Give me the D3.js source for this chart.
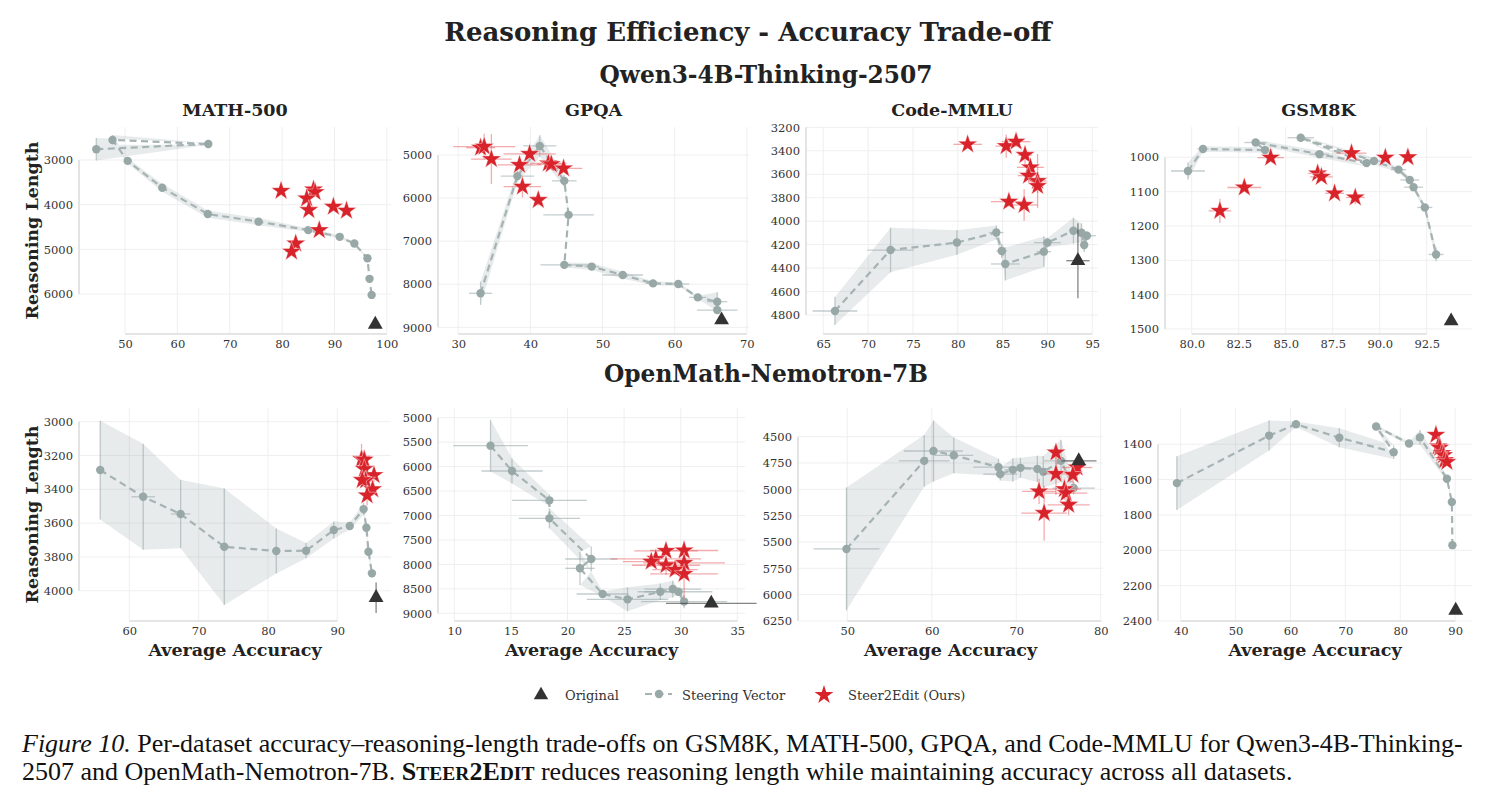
<!DOCTYPE html>
<html>
<head>
<meta charset="utf-8">
<script src="https://cdn.jsdelivr.net/npm/d3@7"></script>
<style>
  body { margin: 0; background: #fff; }
  svg text { font-family: "DejaVu Serif", serif; }
</style>
</head>
<body>
<svg id="chart" width="1496" height="807"></svg>
<script>
// each point: [accuracy, reasoning length, accuracy err, length err]

// Qwen3-4B-Thinking-2507
const qwenMathSteer = [[44.5,2760,0.4,250],[65.9,2640,0.3,20],[47.6,2550,0.4,110],[50.5,3020,0.4,60],[57.1,3620,0.5,90],[65.8,4210,0.4,80],[75.5,4380,0.5,80],[85.0,4570,0.5,40],[91.0,4720,0.4,35],[93.8,4870,0.3,25],[96.3,5200,0.3,20],[96.7,5660,0.3,20],[97.1,6020,0.3,20]];
const qwenMathEdit = [[79.8,3690,0.4,40],[86.0,3660,1.0,60],[86.3,3720,0.8,50],[84.7,3860,0.5,50],[85.1,4120,0.4,40],[89.8,4045,0.4,40],[92.3,4135,0.4,40],[87.1,4570,1.2,50],[82.6,4870,0.5,50],[81.8,5050,1.2,40]];
const qwenMathOrig = [97.8,6680,0,0];

const qwenGpqaSteer = [[33.1,8210,1.6,270],[38.2,5490,2.3,130],[41.3,4790,2.3,250],[44.7,5600,1.7,130],[45.3,6390,3.5,60],[44.7,7550,3.3,60],[48.5,7590,1.0,80],[52.8,7785,2.8,80],[57.0,7980,1.0,50],[60.5,7995,1.5,40],[63.2,8305,1.2,40],[65.9,8405,1.4,220],[65.9,8600,2.8,40]];
const qwenGpqaEdit = [[33.1,4830,2.0,80],[33.6,4805,4.3,300],[34.6,5095,2.8,580],[39.9,4975,3.6,80],[38.5,5230,3.0,100],[42.5,5195,2.5,100],[42.9,5215,2.0,100],[44.6,5310,2.6,80],[38.9,5735,2.6,250],[41.1,6045,0.8,130]];
const qwenGpqaOrig = [66.5,8830,0,0];

const qwenCodeSteer = [[66.3,4766,2.5,120],[72.5,4246,2.6,190],[79.9,4182,0.5,105],[84.3,4097,0.8,60],[84.9,4254,0.6,60],[85.3,4365,1.6,140],[89.6,4260,0.8,130],[90.0,4183,1.5,40],[92.9,4081,0.5,110],[93.8,4099,0.5,80],[94.1,4203,0.3,60],[94.4,4124,1.0,40]];
const qwenCodeEdit = [[81.1,3345,1.6,30],[85.4,3360,1.2,100],[86.5,3322,1.6,40],[87.5,3436,0.8,80],[88.1,3541,1.5,60],[87.9,3612,1.2,60],[88.9,3657,1.0,230],[88.9,3700,0.5,60],[85.7,3834,2.0,40],[87.4,3862,1.5,135]];
const qwenCodeOrig = [93.4,4337,1.3,320];

const qwenGsmSteer = [[79.8,1040,0.9,25],[80.6,976,0.3,8],[83.9,979,0.4,8],[83.4,957,0.6,8],[86.8,991,0.5,10],[89.3,1017,0.3,10],[85.8,943,0.7,6],[89.7,1011,0.4,10],[91.0,1036,0.4,8],[91.6,1066,0.5,8],[91.8,1087,0.5,8],[92.4,1146,0.4,8],[93.0,1283,0.4,20]];
const qwenGsmEdit = [[84.2,1001,0.7,10],[88.5,988,0.8,12],[90.3,1001,0.3,12],[91.5,1000,0.3,12],[86.7,1047,0.5,12],[86.9,1057,0.6,10],[87.6,1105,0.5,10],[88.7,1117,0.5,20],[82.8,1088,0.9,10],[81.5,1156,0.6,35]];
const qwenGsmOrig = [93.8,1477,0.2,4];

// OpenMath-Nemotron-7B
const nemoMathSteer = [[55.8,3286,0.3,292],[62.0,3444,1.7,313],[67.4,3546,1.4,202],[73.7,3740,0.7,345],[81.2,3765,0.3,133],[85.5,3763,0.3,45],[89.5,3641,0.3,50],[91.8,3617,0.3,20],[93.8,3517,0.4,35],[94.2,3627,0.3,25],[94.5,3769,0.3,20],[95.0,3897,0.3,25]];
const nemoMathEdit = [[93.5,3221,0.6,90],[93.9,3225,0.5,60],[93.9,3280,0.4,50],[95.3,3316,0.3,40],[94.1,3347,0.5,50],[93.6,3345,0.4,40],[95.1,3400,0.3,40],[94.3,3436,0.4,60]];
const nemoMathOrig = [95.6,4041,0,90];

const nemoGpqaSteer = [[13.2,5572,3.3,530],[15.1,6090,2.7,255],[18.4,6690,3.3,120],[18.4,7058,2.7,205],[22.1,7889,2.3,255],[21.1,8080,1.3,340],[23.1,8605,2.3,50],[25.3,8714,3.6,245],[28.2,8559,2.0,170],[29.3,8504,2.5,170],[29.8,8559,3.0,60],[30.3,8760,3.8,135]];
const nemoGpqaEdit = [[28.7,7723,2.8,100],[30.3,7716,3.0,200],[27.8,7888,4.0,100],[27.4,7942,2.5,100],[30.3,7970,3.6,150],[28.7,8017,3.0,200],[29.5,8106,2.0,100],[30.3,8194,3.0,500]];
const nemoGpqaOrig = [32.7,8796,4.0,0];

const nemoCodeSteer = [[49.9,5566,3.9,583],[59.1,4730,3.0,246],[60.2,4636,3.5,290],[62.6,4677,2.3,170],[67.9,4790,3.0,80],[68.1,4856,2.0,60],[69.6,4815,1.0,110],[70.5,4796,1.5,95],[72.5,4806,1.5,125],[73.2,4834,1.0,150],[75.3,4730,2.0,200],[76.8,4988,2.5,60]];
const nemoCodeEdit = [[74.7,4651,0.5,60],[77.2,4793,1.8,100],[74.7,4853,1.5,200],[76.7,4862,0.8,80],[72.7,5020,2.0,120],[75.7,4998,2.0,100],[75.9,5036,2.5,80],[76.2,5147,2.5,100],[73.3,5225,2.7,260]];
const nemoCodeOrig = [77.4,4730,2.1,0];

const nemoGsmSteer = [[39.3,1620,0.3,152],[56.1,1351,0.3,85],[61.0,1287,0.3,15],[68.9,1363,0.3,54],[78.8,1445,0.3,38],[75.6,1300,0.3,10],[81.6,1396,0.3,10],[83.6,1361,0.3,42],[88.5,1595,0.3,15],[89.4,1727,0.3,15],[89.5,1971,0.3,10]];
const nemoGsmEdit = [[86.5,1347,0.3,20],[86.9,1413,0.4,25],[87.2,1420,0.3,20],[87.6,1450,0.4,20],[87.9,1462,0.3,20],[88.1,1490,0.3,20],[88.5,1500,0.3,20]];
const nemoGsmOrig = [90.1,2340,0,0];

const datasetNames = ['MATH-500', 'GPQA', 'Code-MMLU', 'GSM8K'];
const modelNames = ['Qwen3-4B-Thinking-2507', 'OpenMath-Nemotron-7B'];
const legendLabels = ['Original', 'Steering Vector', 'Steer2Edit (Ours)'];

const svg = d3.select('#chart');
const steerColor = '#95a5a6', editColor = '#d9232b', origColor = '#333333';
const rowTop = [127, 408], rowBottom = [334, 621];

// layout: x pixel range + domains
let panels = [
    {row: 0, title: datasetNames[0], sv: qwenMathSteer, ed: qwenMathEdit, og: qwenMathOrig, px: [79, 391], xd: [41.2, 100.8], yd: [2261, 6895], xt: [50,60,70,80,90,100], yt: [3000,4000,5000,6000]},
    {row: 0, title: datasetNames[1], sv: qwenGpqaSteer, ed: qwenGpqaEdit, og: qwenGpqaOrig, px: [438, 749], xd: [27.2, 70.3], yd: [4350, 9155], xt: [30,40,50,60,70], yt: [5000,6000,7000,8000,9000]},
    {row: 0, title: datasetNames[2], sv: qwenCodeSteer, ed: qwenCodeEdit, og: qwenCodeOrig, px: [806, 1098], xd: [63.07, 95.64], yd: [3197, 4962], xt: [65,70,75,80,85,90,95], yt: [3200,3400,3600,3800,4000,4200,4400,4600,4800]},
    {row: 0, title: datasetNames[3], sv: qwenGsmSteer, ed: qwenGsmEdit, og: qwenGsmOrig, px: [1165, 1472], xd: [78.58, 94.91], yd: [911.8, 1514.6], xt: [80,82.5,85,87.5,90,92.5], yt: [1000,1100,1200,1300,1400,1500], xf: d3.format('.1f')},
    {row: 1, sv: nemoMathSteer, ed: nemoMathEdit, og: nemoMathOrig, px: [79, 391], xd: [52.74, 97.75], yd: [2919, 4179], xt: [60,70,80,90], yt: [3000,3200,3400,3600,3800,4000]},
    {row: 1, sv: nemoGpqaSteer, ed: nemoGpqaEdit, og: nemoGpqaOrig, px: [438, 745], xd: [8.56, 35.68], yd: [4802, 9157], xt: [10,15,20,25,30,35], yt: [5000,5500,6000,6500,7000,7500,8000,8500,9000]},
    {row: 1, sv: nemoCodeSteer, ed: nemoCodeEdit, og: nemoCodeOrig, px: [798, 1103], xd: [44.16, 80.27], yd: [4228, 6250], xt: [50,60,70,80], yt: [4500,4750,5000,5250,5500,5750,6000,6250]},
    {row: 1, sv: nemoGsmSteer, ed: nemoGsmEdit, og: nemoGsmOrig, px: [1158, 1472], xd: [35.86, 93.07], yd: [1195, 2400], xt: [40,50,60,70,80,90], yt: [1400,1600,1800,2000,2200,2400]}
];

function errorBars(g, data, x, y, color, opacity) {
    data.forEach(function(d) {
        if (d[2] > 0) {
            g.append('line')
                .attr('x1', x(d[0] - d[2])).attr('x2', x(d[0] + d[2]))
                .attr('y1', y(d[1])).attr('y2', y(d[1]))
                .attr('stroke', color).attr('stroke-width', 1.3).attr('opacity', opacity);
        }
        if (d[3] > 0) {
            g.append('line')
                .attr('x1', x(d[0])).attr('x2', x(d[0]))
                .attr('y1', y(d[1] - d[3])).attr('y2', y(d[1] + d[3]))
                .attr('stroke', color).attr('stroke-width', 1.3).attr('opacity', opacity);
        }
    });
}

function drawPanel(p) {
    let top = rowTop[p.row], bottom = rowBottom[p.row];
    let x = d3.scaleLinear().domain(p.xd).range(p.px);
    let y = d3.scaleLinear().domain(p.yd).range([top, bottom]);
    let g = svg.append('g');

    // grid
    g.selectAll('.gx').data(p.xt).enter().append('line')
        .attr('x1', d => x(d)).attr('x2', d => x(d))
        .attr('y1', top).attr('y2', bottom)
        .attr('stroke', '#ededed').attr('stroke-width', 0.9);
    g.selectAll('.gy').data(p.yt).enter().append('line')
        .attr('x1', p.px[0]).attr('x2', p.px[1])
        .attr('y1', d => y(d)).attr('y2', d => y(d))
        .attr('stroke', '#ededed').attr('stroke-width', 0.9);

    // trimmed spines
    g.append('line')
        .attr('x1', x(p.xt[0])).attr('x2', x(p.xt[p.xt.length - 1]))
        .attr('y1', bottom).attr('y2', bottom)
        .attr('stroke', '#dddddd').attr('stroke-width', 1.6);
    g.append('line')
        .attr('x1', p.px[0]).attr('x2', p.px[0])
        .attr('y1', y(p.yt[0])).attr('y2', y(p.yt[p.yt.length - 1]))
        .attr('stroke', '#dddddd').attr('stroke-width', 1.6);

    // axes
    let xAxis = g.append('g')
        .attr('transform', 'translate(0,' + bottom + ')')
        .call(d3.axisBottom(x).tickValues(p.xt).tickSize(0).tickPadding(6).tickFormat(p.xf || d3.format('d')));
    let yAxis = g.append('g')
        .attr('transform', 'translate(' + p.px[0] + ',0)')
        .call(d3.axisLeft(y).tickValues(p.yt).tickSize(0).tickPadding(6).tickFormat(d3.format('d')));
    [xAxis, yAxis].forEach(function(a) {
        a.select('.domain').remove();
        a.selectAll('text')
            .attr('font-family', '"DejaVu Serif", serif')
            .attr('font-size', '11.5px')
            .attr('fill', '#333');
    });

    // steering vector band, bars, line, markers
    let band = d3.area()
        .x(d => x(d[0]))
        .y0(d => y(d[1] - d[3]))
        .y1(d => y(d[1] + d[3]));
    g.append('path').datum(p.sv)
        .attr('d', band)
        .attr('fill', steerColor).attr('fill-opacity', 0.22);
    errorBars(g, p.sv, x, y, steerColor, 0.55);
    let line = d3.line().x(d => x(d[0])).y(d => y(d[1]));
    g.append('path').datum(p.sv)
        .attr('d', line)
        .attr('fill', 'none')
        .attr('stroke', '#a6b3b3').attr('stroke-width', 2.2)
        .attr('stroke-dasharray', '7,4.5');
    g.selectAll('.sv').data(p.sv).enter().append('circle')
        .attr('cx', d => x(d[0])).attr('cy', d => y(d[1]))
        .attr('r', 4.2).attr('fill', '#98a8a7');

    // steer2edit
    errorBars(g, p.ed, x, y, '#e8474c', 0.45);
    g.selectAll('.ed').data(p.ed).enter().append('path')
        .attr('d', d3.symbol(d3.symbolStar, 120))
        .attr('transform', d => 'translate(' + x(d[0]) + ',' + y(d[1]) + ')')
        .attr('fill', editColor)
        .attr('stroke', '#fff').attr('stroke-width', 0.4);

    // original
    errorBars(g, [p.og], x, y, origColor, 0.6);
    g.append('path')
        .attr('d', d3.symbol(d3.symbolTriangle, 95))
        .attr('transform', 'translate(' + x(p.og[0]) + ',' + y(p.og[1]) + ')')
        .attr('fill', origColor);

    // titles and labels
    let cx = (p.px[0] + p.px[1]) / 2;
    if (p.title) {
        g.append('text').text(p.title)
            .attr('x', cx).attr('y', 116)
            .attr('text-anchor', 'middle')
            .attr('font-weight', 'bold').attr('font-size', '17.5px').attr('fill', '#222');
    }
    if (p.row === 1) {
        g.append('text').text('Average Accuracy')
            .attr('x', cx).attr('y', 656)
            .attr('text-anchor', 'middle')
            .attr('font-weight', 'bold').attr('font-size', '17.5px').attr('fill', '#222');
    }
    if (p.px[0] < 100) {
        let cy = (top + bottom) / 2;
        g.append('text').text('Reasoning Length')
            .attr('transform', 'translate(38,' + cy + ') rotate(-90)')
            .attr('text-anchor', 'middle')
            .attr('font-weight', 'bold').attr('font-size', '17.5px').attr('fill', '#222');
    }
}

panels.forEach(drawPanel);

// figure titles
svg.append('text').text('Reasoning Efficiency - Accuracy Trade-off')
    .attr('x', 748).attr('y', 41)
    .attr('text-anchor', 'middle')
    .attr('font-weight', 'bold').attr('font-size', '26px').attr('fill', '#222');
svg.append('text').text(modelNames[0])
    .attr('x', 766).attr('y', 83)
    .attr('text-anchor', 'middle')
    .attr('font-weight', 'bold').attr('font-size', '23.3px').attr('fill', '#222');
svg.append('text').text(modelNames[1])
    .attr('x', 766).attr('y', 382)
    .attr('text-anchor', 'middle')
    .attr('font-weight', 'bold').attr('font-size', '23.3px').attr('fill', '#222');

// legend
let legend = svg.append('g').attr('font-size', '13px').attr('fill', '#333');
legend.append('path')
    .attr('d', d3.symbol(d3.symbolTriangle, 90))
    .attr('transform', 'translate(541,695)')
    .attr('fill', origColor);
legend.append('text').text(legendLabels[0]).attr('x', 565).attr('y', 699.5);
legend.append('line')
    .attr('x1', 645).attr('x2', 672).attr('y1', 694).attr('y2', 694)
    .attr('stroke', '#a6b3b3').attr('stroke-width', 2.2).attr('stroke-dasharray', '7,4.5');
legend.append('circle').attr('cx', 659).attr('cy', 694).attr('r', 4.2).attr('fill', '#98a8a7');
legend.append('text').text(legendLabels[1]).attr('x', 682).attr('y', 699.5);
legend.append('path')
    .attr('d', d3.symbol(d3.symbolStar, 110))
    .attr('transform', 'translate(824,695)')
    .attr('fill', editColor);
legend.append('text').text(legendLabels[2]).attr('x', 848).attr('y', 699.5);

// caption
let cap = svg.append('g')
    .attr('font-size', '26px').attr('fill', '#111');
let l1 = cap.append('text').attr('x', 22).attr('y', 752).style('font-family', '"Liberation Serif", serif');
l1.append('tspan').attr('font-style', 'italic').text('Figure 10.');
l1.append('tspan').text(' Per-dataset accuracy\u2013reasoning-length trade-offs on GSM8K, MATH-500, GPQA, and Code-MMLU for Qwen3-4B-Thinking-');
let l2 = cap.append('text').attr('x', 22).attr('y', 780).style('font-family', '"Liberation Serif", serif');
l2.append('tspan').text('2507 and OpenMath-Nemotron-7B. ');
l2.append('tspan').attr('font-weight', 'bold').text('S');
l2.append('tspan').attr('font-weight', 'bold').attr('font-size', '19.5px').text('TEER');
l2.append('tspan').attr('font-weight', 'bold').text('2E');
l2.append('tspan').attr('font-weight', 'bold').attr('font-size', '19.5px').text('DIT');
l2.append('tspan').text(' reduces reasoning length while maintaining accuracy across all datasets.');
</script>
</body>
</html>
